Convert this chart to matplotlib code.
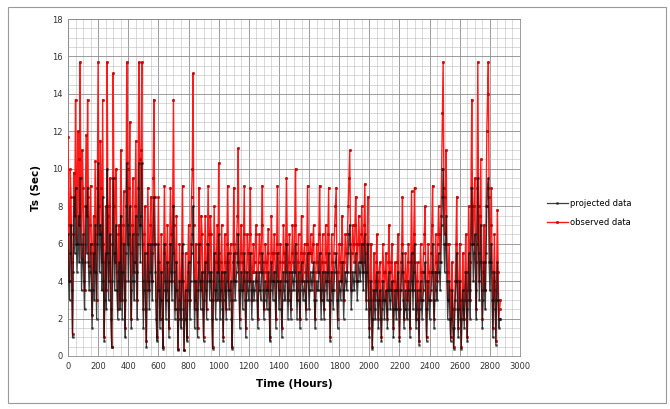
import matplotlib
matplotlib.use("Agg")
import matplotlib.pyplot as plt
import numpy as np
from matplotlib.patches import Rectangle

# series, one value every STEP_H hours
STEP_H = 5

observed = [
    # 0 - 595 h
    11.7, 7.0, 4.0, 10.0, 8.5, 5.0, 1.2, 6.5, 9.8, 7.5, 13.7, 9.0, 6.0, 12.0, 10.5, 7.0, 15.7, 9.5, 5.2, 11.0,
    9.0, 6.0, 3.5, 8.0, 11.8, 7.5, 13.7, 8.5, 4.8, 7.0, 9.1, 5.5, 2.2, 6.0, 7.5, 4.5, 10.4, 6.5, 3.0, 9.0,
    15.7, 8.0, 6.5, 11.5, 9.0, 5.0, 13.7, 6.0, 1.0, 5.0, 8.0, 3.5, 15.7, 7.5, 4.0, 8.0, 9.5, 2.5, 0.5, 6.0,
    15.1, 8.0, 5.0, 9.5, 10.0, 4.5, 2.5, 6.5, 7.0, 3.0, 11.0, 6.0, 3.0, 7.0, 8.8, 4.0, 1.5, 8.0, 15.7, 10.0,
    6.0, 9.0, 12.5, 5.5, 2.0, 7.0, 9.5, 5.0, 4.5, 8.0, 11.5, 6.5, 3.0, 9.0, 15.7, 10.5, 7.0, 11.0, 15.7, 6.0,
    2.5, 6.5, 8.0, 4.0, 0.8, 5.5, 9.0, 6.0, 3.5, 7.0, 8.5, 5.5, 4.0, 9.5, 13.7, 8.5, 6.0, 3.0, 1.0, 5.0,
    # 600 - 995 h
    8.5, 5.0, 2.0, 4.5, 6.5, 3.0, 0.5, 5.5, 9.1, 6.0, 3.0, 5.0, 7.0, 4.0, 1.5, 6.0, 9.0, 6.5, 4.0, 8.0,
    13.7, 7.0, 2.5, 5.0, 7.5, 3.5, 0.4, 3.0, 6.0, 4.0, 2.0, 5.5, 9.1, 4.0, 0.3, 3.0, 5.5, 3.5, 1.0, 4.5,
    7.0, 5.0, 3.0, 6.0, 8.5, 10.0, 15.1, 7.0, 2.5, 4.0, 6.0, 3.5, 1.5, 5.0, 9.0, 6.0, 3.5, 7.5, 6.5, 4.0,
    1.0, 4.5, 7.5, 5.0, 2.5, 6.0, 9.1, 6.5, 4.0, 7.5, 6.5, 3.0, 0.5, 4.0, 8.0, 5.5, 3.0, 5.0, 7.0, 4.5,
    # 1000 - 1995 h
    10.3, 5.5, 3.0, 5.0, 7.0, 4.0, 1.0, 4.5, 6.5, 5.0, 2.5, 6.0, 9.1, 5.0, 3.5, 5.5, 6.0, 3.0, 0.5, 5.0,
    9.0, 6.0, 4.0, 5.5, 6.5, 7.5, 11.1, 5.0, 2.0, 5.5, 7.0, 5.0, 3.5, 6.5, 9.1, 4.5, 1.5, 4.0, 6.5, 5.5,
    4.0, 6.5, 9.0, 5.5, 3.0, 4.5, 6.0, 4.5, 5.0, 6.5, 7.0, 4.0, 2.0, 5.0, 6.5, 5.5, 4.5, 7.0, 9.1, 5.0,
    2.5, 4.5, 6.0, 5.0, 3.5, 5.5, 6.8, 4.0, 1.0, 5.0, 7.5, 5.5, 4.0, 5.5, 6.5, 4.5, 2.0, 6.0, 9.1, 5.5,
    3.5, 5.0, 6.0, 4.0, 1.5, 5.0, 7.0, 5.5, 4.0, 6.0, 9.5, 6.0, 3.0, 5.0, 6.5, 4.5, 2.5, 5.5, 7.0, 5.0,
    4.5, 7.0, 10.0, 5.5, 3.0, 5.0, 6.5, 4.0, 2.0, 5.5, 7.5, 5.0, 4.0, 5.5, 6.0, 4.5, 2.5, 6.0, 9.1, 5.5,
    3.5, 5.5, 6.5, 5.5, 5.0, 6.0, 7.0, 4.0, 2.0, 4.5, 6.0, 5.0, 4.5, 6.5, 9.1, 5.5, 3.0, 5.0, 6.5, 4.5,
    2.5, 5.0, 7.0, 5.5, 4.0, 6.5, 9.0, 4.0, 1.0, 4.5, 6.5, 5.0, 3.5, 5.5, 7.0, 8.0, 9.0, 4.5, 2.0, 4.5,
    6.0, 5.0, 4.0, 6.0, 7.5, 5.0, 3.0, 5.0, 6.5, 5.5, 4.5, 6.5, 8.0, 9.5, 11.0, 6.0, 3.5, 5.5, 7.0, 6.0,
    5.0, 7.0, 8.5, 6.0, 4.0, 6.0, 7.5, 6.0, 5.0, 6.5, 8.0, 6.0, 4.5, 7.0, 9.2, 5.5, 3.0, 6.0, 8.5, 4.0,
    # 2000 - 2870 h
    1.5, 4.0, 6.0, 3.0, 0.5, 3.5, 5.5, 4.0, 3.0, 5.0, 6.5, 4.0, 2.0, 4.5, 5.0, 3.0, 1.0, 4.0, 6.0, 4.5,
    3.0, 4.5, 5.5, 3.5, 2.0, 5.0, 7.0, 4.5, 3.5, 5.0, 6.0, 3.5, 1.5, 4.0, 5.0, 3.5, 2.5, 5.0, 6.5, 3.5,
    1.0, 3.5, 5.0, 6.0, 8.5, 4.5, 2.0, 4.0, 5.5, 4.0, 3.0, 5.0, 6.0, 3.5, 1.5, 5.0, 8.8, 5.5, 3.5, 6.5,
    9.0, 5.0, 2.0, 4.0, 5.0, 3.0, 0.8, 3.5, 6.0, 4.5, 3.0, 4.5, 5.5, 6.5, 8.0, 4.0, 1.0, 4.0, 6.0, 4.5,
    3.0, 4.5, 5.5, 7.0, 9.1, 4.5, 2.0, 4.5, 6.5, 5.0, 4.0, 6.0, 8.0, 6.5, 5.0, 7.5, 10.0, 13.0, 15.7, 9.0,
    6.5, 8.5, 11.0, 6.0, 3.0, 4.5, 6.0, 3.5, 1.0, 3.5, 5.0, 2.5, 0.5, 2.5, 4.0, 6.0, 8.5, 4.0, 1.5, 4.0,
    6.0, 3.0, 0.5, 3.0, 5.5, 3.5, 2.0, 4.5, 6.5, 3.5, 1.0, 4.5, 8.0, 5.0, 3.0, 9.0, 13.7, 8.0, 6.0, 8.0,
    9.5, 5.0, 2.5, 9.0, 15.7, 8.0, 4.0, 7.5, 10.5, 5.0, 2.0, 4.5, 7.0, 5.0, 3.5, 8.0, 12.0, 14.0, 15.7, 8.5,
    5.0, 7.0, 9.0, 4.5, 1.5, 4.0, 6.5, 3.5, 0.8, 4.5, 7.8, 4.5, 2.0, 2.5, 3.0,
]

projected = [
    # 0 - 595 h
    6.5, 4.0, 3.0, 5.5, 7.0, 3.5, 1.0, 4.5, 8.5, 5.5, 9.0, 6.0, 4.5, 6.0, 7.5, 5.0, 9.5, 6.0, 3.5, 5.0,
    6.5, 4.0, 2.5, 5.0, 8.0, 5.5, 9.0, 5.0, 3.5, 4.5, 6.0, 3.5, 1.5, 3.5, 5.5, 3.0, 7.0, 4.5, 2.0, 6.0,
    10.3, 6.5, 4.5, 7.0, 6.5, 3.5, 8.5, 4.0, 0.8, 3.0, 5.5, 2.5, 10.0, 5.5, 3.0, 5.0, 6.5, 2.0, 0.5, 4.0,
    9.5, 5.5, 3.5, 5.5, 7.0, 3.5, 2.0, 4.0, 5.0, 2.5, 7.5, 4.5, 2.0, 4.5, 6.0, 3.0, 1.0, 5.5, 10.3, 7.0,
    4.0, 6.5, 8.0, 3.5, 1.5, 4.0, 6.5, 4.0, 3.0, 5.0, 7.5, 4.5, 2.0, 6.0, 10.3, 7.0, 5.0, 7.5, 10.3, 4.0,
    1.5, 3.5, 5.5, 2.5, 0.5, 3.5, 6.0, 4.0, 2.5, 4.5, 6.0, 4.0, 3.0, 6.0, 8.5, 6.0, 4.5, 2.0, 0.8, 3.5,
    # 600 - 995 h
    6.0, 3.5, 1.5, 3.0, 4.5, 2.0, 0.4, 3.5, 6.0, 4.0, 2.0, 3.5, 5.0, 3.0, 1.0, 4.0, 6.0, 4.5, 3.0, 5.5,
    8.0, 4.5, 2.0, 3.5, 5.0, 2.5, 0.3, 2.0, 4.0, 2.5, 1.5, 4.0, 6.0, 2.5, 0.3, 2.0, 3.5, 2.0, 0.8, 3.0,
    5.0, 3.5, 2.0, 4.0, 5.5, 6.5, 8.0, 4.0, 1.5, 3.0, 4.0, 2.5, 1.0, 3.5, 6.0, 4.0, 2.5, 4.0, 4.5, 2.5,
    0.8, 3.0, 5.0, 3.5, 2.0, 4.0, 6.0, 4.5, 3.0, 4.0, 4.5, 2.0, 0.4, 3.0, 5.5, 3.5, 2.0, 3.5, 4.5, 3.0,
    # 1000 - 1995 h
    6.5, 4.0, 2.0, 3.5, 4.5, 2.5, 0.8, 3.0, 4.5, 3.5, 2.0, 4.0, 5.5, 3.5, 2.5, 3.5, 4.0, 2.0, 0.4, 3.0,
    5.5, 4.0, 3.0, 4.0, 4.5, 5.0, 6.5, 3.5, 1.5, 3.5, 4.5, 3.5, 2.5, 4.0, 5.5, 3.0, 1.0, 3.0, 4.5, 3.5,
    3.0, 4.0, 5.5, 3.5, 2.0, 3.5, 4.0, 3.0, 3.5, 4.0, 4.5, 3.0, 1.5, 3.5, 4.5, 3.5, 3.0, 4.5, 5.5, 3.5,
    2.0, 3.0, 4.0, 3.5, 2.5, 3.5, 4.5, 2.5, 0.8, 3.5, 5.0, 4.0, 3.0, 4.0, 4.5, 3.0, 1.5, 4.0, 5.5, 4.0,
    2.5, 3.5, 4.0, 2.5, 1.0, 3.0, 4.5, 3.5, 3.0, 4.5, 6.0, 4.0, 2.0, 3.5, 4.5, 3.0, 2.0, 3.5, 4.5, 4.0,
    3.5, 4.5, 6.0, 4.0, 2.0, 3.5, 4.5, 3.0, 1.5, 3.5, 5.0, 4.0, 3.0, 3.5, 4.0, 3.0, 2.0, 4.0, 5.5, 4.0,
    2.5, 3.5, 4.5, 4.0, 3.5, 4.5, 5.0, 3.0, 1.5, 3.0, 4.0, 3.5, 3.5, 4.5, 5.5, 3.5, 2.0, 3.5, 4.5, 3.0,
    2.0, 3.5, 4.5, 4.0, 3.0, 4.5, 5.5, 3.0, 0.8, 3.0, 4.5, 3.5, 2.5, 3.5, 4.5, 5.0, 5.5, 3.0, 1.5, 3.0,
    4.0, 3.5, 3.0, 4.0, 5.0, 3.5, 2.0, 3.5, 4.5, 4.0, 3.5, 4.5, 5.5, 6.5, 7.0, 4.5, 2.5, 3.5, 4.5, 4.0,
    3.5, 4.5, 5.5, 4.0, 3.0, 4.0, 5.0, 4.5, 4.0, 5.0, 6.0, 4.5, 3.5, 5.0, 6.5, 4.5, 2.5, 4.5, 6.0, 3.0,
    # 2000 - 2870 h
    1.0, 2.5, 4.0, 2.0, 0.4, 2.0, 3.5, 2.5, 2.0, 3.5, 4.5, 3.0, 1.5, 3.0, 3.5, 2.0, 0.8, 2.5, 4.0, 3.0,
    2.0, 3.0, 3.5, 2.5, 1.5, 3.5, 4.5, 3.0, 2.5, 3.5, 4.0, 2.5, 1.0, 2.5, 3.5, 2.5, 2.0, 3.5, 4.5, 2.5,
    0.8, 2.5, 3.5, 4.5, 5.5, 3.0, 1.5, 2.5, 3.5, 2.5, 2.0, 3.5, 4.0, 2.5, 1.0, 3.5, 5.5, 4.0, 2.5, 4.5,
    6.0, 3.5, 1.5, 2.5, 3.5, 2.0, 0.6, 2.5, 4.0, 3.0, 2.0, 3.0, 3.5, 4.5, 5.0, 2.5, 0.8, 2.5, 4.0, 3.0,
    2.0, 3.0, 3.5, 4.5, 6.0, 3.0, 1.5, 3.0, 4.5, 3.5, 3.0, 4.5, 5.5, 4.5, 3.5, 5.0, 7.0, 8.5, 10.0, 6.0,
    4.5, 6.0, 7.5, 4.0, 2.0, 3.0, 4.0, 2.0, 0.8, 2.0, 3.5, 1.5, 0.4, 1.5, 3.0, 4.0, 5.5, 2.5, 1.0, 2.5,
    4.0, 2.0, 0.4, 2.0, 3.5, 2.5, 1.5, 3.0, 4.5, 2.5, 0.8, 3.0, 5.5, 3.5, 2.0, 6.0, 9.0, 6.0, 4.0, 5.5,
    6.5, 3.5, 2.0, 6.0, 9.5, 5.5, 3.0, 5.0, 7.0, 3.5, 1.5, 3.0, 5.0, 3.5, 2.5, 5.5, 8.0, 9.0, 9.5, 5.0,
    3.5, 5.0, 6.0, 3.0, 1.0, 3.0, 4.5, 2.5, 0.6, 3.0, 5.0, 3.0, 1.5, 2.0, 2.0,
]

hours_obs = np.arange(len(observed)) * STEP_H
hours_proj = np.arange(len(projected)) * STEP_H

fig = plt.figure(figsize=(6.7, 4.09), dpi=100)
ax = fig.add_axes([0.1015, 0.1296, 0.6746, 0.8239])

# outer chart border like the spreadsheet chart area
fig.patches.append(Rectangle((0.012, 0.015), 0.982, 0.968, transform=fig.transFigure,
                             fill=False, edgecolor="#9a9a9a", linewidth=0.8))

ax.plot(hours_obs, observed, color="#ff1a1a", linewidth=1.0, marker="o",
        markersize=1.8, markerfacecolor="#e00000", markeredgecolor="#a00000",
        markeredgewidth=0.3, label="observed data", zorder=3)
ax.plot(hours_proj, projected, color="#111111", linewidth=0.9, marker="s",
        markersize=1.4, markeredgewidth=0.2, alpha=0.8,
        label="projected data", zorder=4)

ax.set_xlim(0, 3000)
ax.set_ylim(0, 18)
ax.set_xticks(np.arange(0, 3001, 200))
ax.set_yticks(np.arange(0, 19, 2))
ax.set_xticks(np.arange(0, 3001, 50), minor=True)
ax.set_yticks(np.arange(0, 18.1, 0.5), minor=True)
ax.grid(which="major", color="#8c8c8c", linewidth=0.6)
ax.grid(which="minor", color="#bdbdbd", linewidth=0.4)
ax.set_axisbelow(True)
ax.tick_params(which="both", length=0, labelsize=6, colors="#333333", pad=4)
for s in ax.spines.values():
    s.set_color("#8c8c8c")
    s.set_linewidth(0.6)

ax.set_xlabel("Time (Hours)", fontsize=7.5, fontweight="bold", labelpad=6)
ax.set_ylabel("Ts (Sec)", fontsize=7.5, fontweight="bold", labelpad=8)

h, l = ax.get_legend_handles_labels()
fig.legend(h[::-1], l[::-1], loc="center left", bbox_to_anchor=(0.805, 0.48),
           frameon=False, fontsize=6, handlelength=2.5, labelspacing=1.2,
           handletextpad=0.3)

fig.savefig("out.png", dpi=100)
